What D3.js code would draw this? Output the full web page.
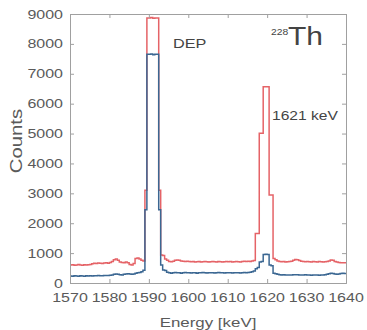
<!DOCTYPE html>
<html><head><meta charset="utf-8">
<script src="https://cdn.jsdelivr.net/npm/d3@7"></script>
<style>body{margin:0;background:#fff}svg{display:block}</style>
</head><body><svg id="c" width="367" height="330"></svg>
<script>
// Histogram bins: 0.5 keV wide, starting at 1570 keV
const binStart = 1570, binWidth = 0.5;
const redCounts = [
 600,610,590,600,620,600,590,610,600,610,
 620,640,660,650,670,660,650,670,680,660,
 690,720,780,800,760,700,690,680,700,680,
 620,600,650,820,840,800,760,740,3100,8870,
 8870,8880,8860,8870,8870,3100,940,920,800,760,
 720,710,730,760,770,760,740,730,720,730,
 720,710,720,700,710,720,700,710,720,710,
 700,710,720,710,700,720,710,700,710,720,
 710,720,700,710,720,710,700,720,730,720,
 730,720,740,750,1660,1660,5010,5010,6570,6570,
 6570,2945,2945,820,780,740,720,710,720,700,
 710,720,730,760,790,780,750,730,720,710,
 720,710,700,720,710,700,720,710,700,710,
 720,740,770,760,720,700,690,680,680,680
];
const blueCounts = [
 235,230,240,235,230,240,235,230,240,235,
 240,235,240,245,250,245,240,250,255,250,
 260,270,290,300,290,280,270,290,300,310,
 300,290,300,330,340,350,380,430,2450,7650,
 7650,7660,7640,7650,7650,2450,600,435,420,360,
 340,330,340,350,345,340,330,340,350,345,
 340,335,345,340,330,340,345,350,340,335,
 340,345,340,335,340,350,345,340,335,340,
 345,340,335,340,345,340,335,345,350,345,
 350,360,380,400,480,520,700,720,950,960,
 950,600,580,330,310,290,280,270,275,270,
 270,265,270,275,280,275,270,265,270,275,
 270,265,260,265,270,265,260,265,270,280,
 290,310,330,320,300,290,300,320,330,320
];
const xTicks = [1570,1580,1590,1600,1610,1620,1630,1640];
const yTicks = [0,1000,2000,3000,4000,5000,6000,7000,8000,9000];

const svg = d3.select("#c");
const L = 70, R = 346, T = 14, B = 283;
const x = d3.scaleLinear().domain([1570,1640]).range([L,R]);
const y = d3.scaleLinear().domain([0,9000]).range([B,T]);
const axisCol = "#a0a0a0", txtCol = "#5a5a5a";
const font = "Liberation Sans, Arial, sans-serif";

svg.append("clipPath").attr("id","clip").append("rect")
  .attr("x",L).attr("y",T).attr("width",R-L).attr("height",B-T);

function pts(arr){
  const p = arr.map((v,i)=>[binStart+i*binWidth, v]);
  p.push([binStart+arr.length*binWidth, arr[arr.length-1]]);
  return p;
}
const line = d3.line().x(d=>x(d[0])).y(d=>y(d[1])).curve(d3.curveStepAfter);
const g = svg.append("g").attr("clip-path","url(#clip)");
g.append("path").attr("d",line(pts(redCounts))).attr("fill","none")
  .attr("stroke","#e0484c").attr("stroke-width",1.5).attr("stroke-opacity",0.85);
g.append("path").attr("d",line(pts(blueCounts))).attr("fill","none")
  .attr("stroke","#3b6792").attr("stroke-width",1.5);

// axes (box with inward ticks)
const tl = -4;
const ax = [
  svg.append("g").attr("transform",`translate(0,${B})`).call(d3.axisBottom(x).tickValues(xTicks).tickSize(tl).tickFormat("")),
  svg.append("g").attr("transform",`translate(0,${T})`).call(d3.axisTop(x).tickValues(xTicks).tickSize(tl).tickFormat("")),
  svg.append("g").attr("transform",`translate(${L},0)`).call(d3.axisLeft(y).tickValues(yTicks).tickSize(tl).tickFormat("")),
  svg.append("g").attr("transform",`translate(${R},0)`).call(d3.axisRight(y).tickValues(yTicks).tickSize(tl).tickFormat(""))
];
ax.forEach(a=>{a.selectAll("path,line").attr("stroke",axisCol);});

// stretched text helper (reference text is horizontally wide)
function txt(parent, tx, ty, s, size, sx, anchor, col){
  return parent.append("text").attr("transform",`translate(${tx},${ty}) scale(${sx},1)`)
    .attr("text-anchor",anchor||"start").attr("font-family",font).attr("font-size",size)
    .attr("fill",col||txtCol).text(s);
}
xTicks.forEach(d=>txt(svg, x(d), 302, d, 12.5, 1.28, "middle"));
yTicks.forEach(d=>txt(svg, 63, y(d)+4.5, d, 12.5, 1.28, "end"));

txt(svg, (L+R)/2, 326.5, "Energy [keV]", 13, 1.3, "middle");
svg.append("text").attr("transform","translate(22,141) rotate(-90) scale(1.45,1.2)").attr("text-anchor","middle")
  .attr("font-family",font).attr("font-size",14).attr("fill",txtCol).text("Counts");

txt(svg, 173, 48, "DEP", 13, 1.25, "start", "#444");
txt(svg, 272, 120, "1621 keV", 13, 1.2, "start", "#444");
txt(svg, 271, 35, "228", 9, 1.15, "start", "#444");
txt(svg, 288, 45, "Th", 25, 1.2, "start", "#444");
</script></body></html>
